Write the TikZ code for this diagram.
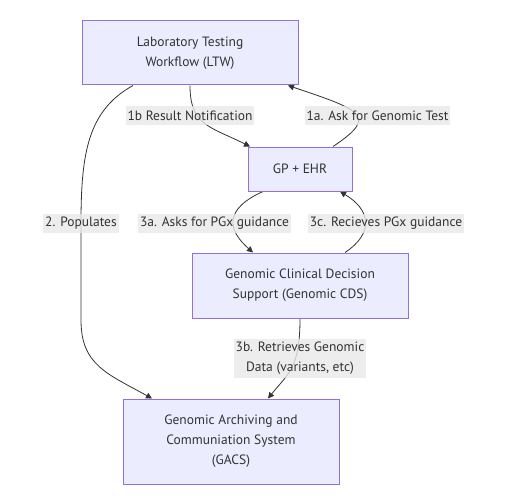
\documentclass[tikz,border=0pt]{standalone}
\usepackage{fontspec}
\setmainfont{PT Sans}
\usetikzlibrary{arrows.meta, positioning, calc, backgrounds}
\definecolor{boxfill}{HTML}{ECECFF}
\definecolor{boxline}{HTML}{9370DB}
\definecolor{labfill}{HTML}{E8E8E8}
\definecolor{edgecol}{HTML}{333333}
\tikzset{
  box/.style={draw=boxline, fill=boxfill, line width=1pt, align=center, inner sep=0pt, text=edgecol, font=\fontsize{13.5}{20}\selectfont},
  tra/.style={-{Triangle[length=6pt, width=6pt]}, draw=edgecol, line width=0.8pt},
  tlab/.style={fill=labfill, fill opacity=0.8, text opacity=1, text=edgecol, align=center, inner xsep=2pt, inner ysep=0pt, minimum height=19pt, font=\fontsize{13.5}{20}\selectfont}
}

\begin{document}
\begin{tikzpicture}[x=1pt, y=-1pt]
	\useasboundingbox (0,0) rectangle (516,500);
	% systems
	\node[box, minimum width=216, minimum height=64] (ltw) at (190,53) {Laboratory Testing\\Workflow (LTW)};
	\node[box, minimum width=104, minimum height=44] (gp) at (300,169) {GP + EHR};
	\node[box, minimum width=216, minimum height=65] (cds) at (300,285.5) {Genomic Clinical Decision\\Support (Genomic CDS)};
	\node[box, minimum width=216, minimum height=85] (gacs) at (231,441.5) {Genomic Archiving and\\Communiation System\\(GACS)};
	% edge labels
	\node[tlab] (l1b) at (190,115.5) {1b Result Notification};
	\node[tlab] (l1a) at (377.5,115.5) {1a. Ask for Genomic Test};
	\node[tlab] (l2) at (81,223) {2. Populates};
	\node[tlab] (l3a) at (214.5,223) {3a. Asks for PGx guidance};
	\node[tlab] (l3c) at (386,223) {3c. Recieves PGx guidance};
	\node[tlab, minimum height=39] (l3b) at (300,358.5) {3b. Retrieves Genomic\\Data (variants, etc)};
	% connectors, under the labels
	\begin{scope}[on background layer]
		\draw[tra] ([xshift=-57pt]ltw.south) .. controls +(-45,25) and +(0,-70) .. (l2.center)
			-- ([yshift=-97pt]l2.center) .. controls +(0,45) and +(-45,-25) .. ([xshift=-79pt]gacs.north);
		\draw[tra] (ltw.south) .. controls +(0,40) and +(-40,-20) .. ([xshift=-50pt]gp.north);
		\draw[tra] ([xshift=33pt]gp.north) .. controls +(45,-30) and +(75,25) .. ([xshift=98pt]ltw.south);
		\draw[tra] ([xshift=-37pt]gp.south) .. controls +(-40,18) and +(-25,-22) .. ([xshift=-47pt]cds.north);
		\draw[tra] ([xshift=45pt]cds.north) .. controls +(30,-20) and +(30,18) .. ([xshift=40pt]gp.south);
		\draw[tra] (cds.south) .. controls +(0,50) and +(20,-25) .. ([xshift=37pt]gacs.north);
	\end{scope}
\end{tikzpicture}
\end{document}
